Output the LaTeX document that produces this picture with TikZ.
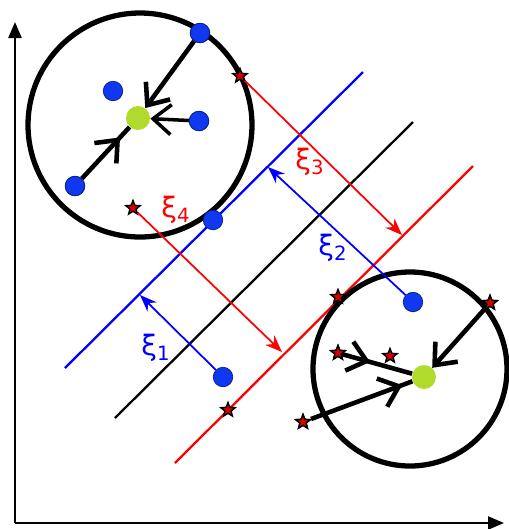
\documentclass[tikz,border=0pt]{standalone}
\usepackage{fontspec}
\setmainfont{DejaVu Sans}
\usetikzlibrary{arrows.meta,shapes.geometric,decorations.markings}
\definecolor{centregreen}{HTML}{AEDB2C}
\definecolor{ptblue}{HTML}{1038F0}

\begin{document}
\begin{tikzpicture}[x=0.02cm, y=-0.02cm,
  bluept/.style={circle, fill=ptblue, draw=ptblue!55!black, inner sep=0pt, minimum size=0.39cm},
  redpt/.style={star, star points=5, star point ratio=2.3, fill=red!85!black, draw=black,
                thick, inner sep=0pt, minimum size=0.3cm},
  centre/.style={circle, fill=centregreen, inner sep=0pt, minimum size=0.48cm},
  ball/.style={line width=3pt},
  sep/.style={line width=1.3pt},
  pull/.style={line width=2.6pt, -{Straight Barb[length=3.6mm,width=6mm]}},
  midtip/.style={line width=2.6pt, postaction={decorate},
                 decoration={markings, mark=at position #1 with
                 {\arrow{Straight Barb[length=3.6mm,width=6mm]}}}},
  slack/.style={line width=1pt, -{Stealth[length=3.4mm,width=2.6mm]}},
  lbl/.style={font=\fontsize{16}{18}\selectfont, inner sep=1pt}
]
  \useasboundingbox (0,0) rectangle (509,529);

  % axes
  \coordinate (o) at (15,523);
  \coordinate (ytop) at (15,22);
  \coordinate (xend) at (504,523);
  \draw[line width=1.4pt, -{Triangle[length=3.2mm,width=2.6mm]}] (o) -- (ytop);
  \draw[line width=1.4pt, -{Triangle[length=3.2mm,width=2.6mm]}] (o) -- (xend);

  % margin lines and hyperplane
  \coordinate (blueA) at (65,368);  \coordinate (blueB) at (363,72);
  \coordinate (midA) at (115,418);  \coordinate (midB) at (413,122);
  \coordinate (redA) at (175,463);  \coordinate (redB) at (473,166);
  \draw[sep, blue] (blueA) -- (blueB);
  \draw[sep, black] (midA) -- (midB);
  \draw[sep, red] (redA) -- (redB);

  % enclosing balls
  \draw[ball] (140,125) circle (112);
  \draw[ball] (410,369) circle (97);

  % centres
  \node[centre] (g1) at (138,118) {};
  \node[centre] (g2) at (424,377) {};

  % points
  \node[bluept] (b1) at (200,33) {};
  \node[bluept] (b2) at (113,91) {};
  \node[bluept] (b3) at (199,121) {};
  \node[bluept] (b4) at (75,186) {};
  \node[bluept] (b5) at (213,220) {};
  \node[bluept] (b6) at (413,302) {};
  \node[bluept] (b7) at (223,377) {};

  \node[redpt] (r1) at (133,208) {};
  \node[redpt] (r2) at (240,76) {};
  \node[redpt] (r3) at (338,297) {};
  \node[redpt] (r4) at (490,303) {};
  \node[redpt] (r5) at (338,353) {};
  \node[redpt] (r6) at (390,356) {};
  \node[redpt] (r7) at (303,422) {};
  \node[redpt] (r8) at (228,410) {};

  % slack feet
  \coordinate (f1) at (140,295);
  \coordinate (f2) at (268,167);
  \coordinate (f3) at (402,235);
  \coordinate (f4) at (282,352);

  \draw[slack, blue] (b7) -- (f1);
  \draw[slack, blue] (b6) -- (f2);
  \draw[slack, red] (r2) -- (f3);
  \draw[slack, red] (r1) -- (f4);

  \node[lbl, text=blue] (xi1) at (156,348) {ξ\textsubscript{1}};
  \node[lbl, text=blue] (xi2) at (333,248) {ξ\textsubscript{2}};
  \node[lbl, text=red] (xi3) at (310,162) {ξ\textsubscript{3}};
  \node[lbl, text=red] (xi4) at (176,210) {ξ\textsubscript{4}};

  % pulls towards the centres
  \draw[pull] (b1) -- (g1);
  \draw[midtip=0.8] (b4) -- (g1);
  \draw[pull, line width=2pt] (b3) -- (g1);
  \draw[pull] (r4) -- (g2);
  \draw[midtip=0.4] (r5) -- (g2);
  \draw[midtip=0.9] (r7) -- (g2);

  % redraw points on top
  \foreach \p in {b1,b3,b4}
    \node[bluept] at (\p) {};
  \foreach \p in {r4,r5,r7}
    \node[redpt] at (\p) {};
\end{tikzpicture}
\end{document}
